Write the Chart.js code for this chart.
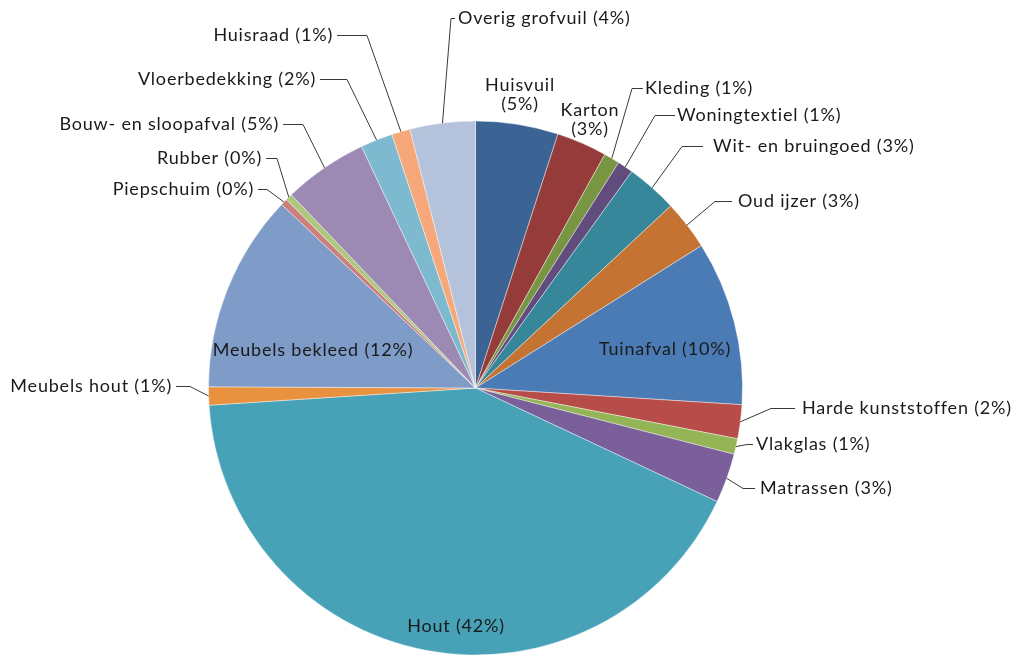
<!DOCTYPE html>
<html>
<head>
<meta charset="utf-8">
<script src="https://cdn.jsdelivr.net/npm/chart.js"></script>
<style>
  body { margin: 0; background: #fff; }
  #wrap { width: 1014px; height: 655px; }
</style>
</head>
<body>
<div id="wrap"><canvas id="taart"></canvas></div>
<script>
// categorieën grofvuil, met de klok mee vanaf boven
const categorieen = [
  'Huisvuil', 'Karton', 'Kleding', 'Woningtextiel', 'Wit- en bruingoed', 'Oud ijzer',
  'Tuinafval', 'Harde kunststoffen', 'Vlakglas', 'Matrassen', 'Hout', 'Meubels hout',
  'Meubels bekleed', 'Piepschuim', 'Rubber', 'Bouw- en sloopafval', 'Vloerbedekking',
  'Huisraad', 'Overig grofvuil'
];
const aandeel = [
  5.0, 3.05, 0.96, 0.95, 3.1, 3.0,
  9.95, 2.05, 0.95, 3.0, 42.0, 1.1,
  12.0, 0.4, 0.42, 5.1, 1.95,
  1.12, 3.95
];
const kleuren = [
  '#3b6495', '#953c3a', '#789541', '#624c7e', '#368799', '#c47333',
  '#4a7bb5', '#b84c49', '#94b556', '#7b5f9a', '#47a2b8', '#e8913f',
  '#7f9cc9', '#cb807e', '#adc77c', '#9c89b4', '#7dbacf', '#f6a87a',
  '#b4c2dc'
];

// plaats van de labels t.o.v. het middelpunt: [modus, dx, dy, lengte haakje, marge]
// c = gecentreerd, c2 = twee regels, L = tekst rechts van lijn, R = tekst links van lijn
const labelPlek = [
  ['c2', 44.5, -303], ['c2', 114.5, -278], ['L', 169.5, -300, 11, 2], ['L', 201.5, -273, 20, 2],
  ['L', 237.5, -242, 21, 10], ['L', 262.5, -187, 17, 6], ['c', 189.5, -39], ['L', 326.5, 20, 24, 7],
  ['L', 280.5, 56, 6, 3], ['L', 284.5, 100, 12, 5], ['c', -19.5, 238], ['R', -303.5, -2, 14, 4],
  ['c', -162.5, -38], ['R', -221.5, -199, 9, 4], ['R', -213.5, -230, 11, 4], ['R', -196.5, -264, 20, 4],
  ['R', -159.5, -309, 27, 4], ['R', -142.5, -353, 30, 4], ['L', -17.5, -370, 4, 3]
];

const labelsPlugin = {
  id: 'taartLabels',
  afterDatasetsDraw(chart) {
    const ctx = chart.ctx;
    const arcs = chart.getDatasetMeta(0).data;
    const totaal = aandeel.reduce((a, b) => a + b, 0);
    ctx.save();
    ctx.font = '18px Lato';
    ctx.letterSpacing = '0.8px';
    ctx.fillStyle = '#1a1a1a';
    ctx.strokeStyle = '#3a3a3a';
    ctx.lineWidth = 1;
    ctx.textBaseline = 'middle';
    arcs.forEach((arc, i) => {
      const p = arc.getProps(['x', 'y', 'startAngle', 'endAngle', 'outerRadius'], true);
      const pct = '(' + Math.round(aandeel[i] / totaal * 100) + '%)';
      const [modus, dx, dy, haak, marge] = labelPlek[i];
      const lx = p.x + dx, ly = p.y + dy;
      if (modus === 'c') {
        ctx.textAlign = 'center';
        ctx.fillText(categorieen[i] + ' ' + pct, lx, ly);
        return;
      }
      if (modus === 'c2') {
        ctx.textAlign = 'center';
        ctx.fillText(categorieen[i], lx, ly);
        ctx.fillText(pct, lx, ly + 19);
        return;
      }
      const hoek = (p.startAngle + p.endAngle) / 2;
      const ax = p.x + Math.cos(hoek) * p.outerRadius;
      const ay = p.y + Math.sin(hoek) * p.outerRadius;
      const richting = modus === 'L' ? -1 : 1;
      const eindX = lx + richting * marge;
      const knikX = eindX + richting * haak;
      ctx.beginPath();
      ctx.moveTo(ax, ay);
      ctx.lineTo(knikX, ly + 0.5);
      ctx.lineTo(eindX, ly + 0.5);
      ctx.stroke();
      ctx.textAlign = modus === 'L' ? 'left' : 'right';
      ctx.fillText(categorieen[i] + ' ' + pct, lx, ly);
    });
    ctx.restore();
  }
};

new Chart(document.getElementById('taart'), {
  type: 'pie',
  data: {
    labels: categorieen,
    datasets: [{
      data: aandeel,
      backgroundColor: kleuren,
      borderColor: 'rgba(255,255,255,0.6)',
      borderWidth: 0.7
    }]
  },
  options: {
    responsive: true,
    maintainAspectRatio: false,
    animation: false,
    radius: 267,
    layout: { padding: { top: 121, bottom: 0, left: 208, right: 271 } },
    plugins: {
      legend: { display: false },
      tooltip: { enabled: false }
    }
  },
  plugins: [labelsPlugin]
});
</script>
</body>
</html>
